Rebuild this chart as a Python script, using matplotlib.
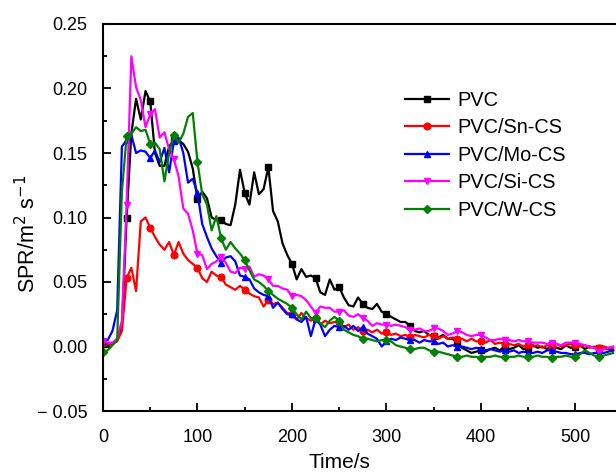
import numpy as np
import matplotlib
matplotlib.use("Agg")
import matplotlib.pyplot as plt
from matplotlib.ticker import MultipleLocator, FuncFormatter

plt.rcParams['font.family'] = ['Liberation Sans', 'DejaVu Sans']

# time axis, one reading every 5 s
time = np.arange(0, 545, 5)

pvc = [0.002, 0.001, 0.002, 0.005, 0.015, 0.100, 0.165, 0.192, 0.176, 0.198,
       0.190, 0.150, 0.140, 0.140, 0.155, 0.160, 0.160, 0.157, 0.151, 0.138,
       0.114, 0.120, 0.115, 0.100, 0.098, 0.098, 0.095, 0.094, 0.110, 0.137,
       0.119, 0.110, 0.135, 0.118, 0.122, 0.139, 0.105, 0.097, 0.080, 0.071,
       0.064, 0.052, 0.060, 0.054, 0.055, 0.053, 0.042, 0.040, 0.052, 0.044,
       0.046, 0.038, 0.032, 0.031, 0.038, 0.033, 0.030, 0.029, 0.033, 0.027,
       0.025, 0.023, 0.021, 0.019, 0.019, 0.016, 0.012, 0.011, 0.012, 0.009,
       0.008, 0.007, 0.009, 0.006, 0.006, 0.003, -0.001, -0.003, -0.005, -0.004,
       -0.003, -0.004, -0.002, -0.001, -0.003, 0.000, -0.002, -0.001, 0.001, -0.002,
       -0.001, 0.001, -0.001, 0.000, -0.002, 0.001, -0.001, -0.002, 0.001, -0.001,
       0.000, 0.001, -0.002, 0.000, -0.001, -0.001, -0.002, -0.002, -0.003]

pvc_sn = [0.003, 0.002, 0.002, 0.004, 0.012, 0.053, 0.061, 0.043, 0.097, 0.100,
          0.092, 0.085, 0.079, 0.075, 0.081, 0.071, 0.081, 0.072, 0.067, 0.064,
          0.061, 0.053, 0.050, 0.058, 0.055, 0.054, 0.048, 0.046, 0.044, 0.047,
          0.044, 0.041, 0.039, 0.038, 0.031, 0.036, 0.033, 0.034, 0.030, 0.026,
          0.025, 0.021, 0.026, 0.022, 0.020, 0.022, 0.017, 0.020, 0.018, 0.019,
          0.019, 0.015, 0.017, 0.013, 0.015, 0.012, 0.013, 0.011, 0.013, 0.010,
          0.011, 0.009, 0.010, 0.008, 0.009, 0.007, 0.009, 0.008, 0.007, 0.009,
          0.008, 0.006, 0.008, 0.006, 0.007, 0.006, 0.006, 0.004, 0.006, 0.004,
          0.004, 0.003, 0.005, 0.002, 0.003, 0.002, 0.002, 0.001, 0.002, 0.000,
          0.001, 0.000, 0.001, -0.001, 0.001, 0.000, 0.002, 0.000, 0.001, 0.002,
          0.001, 0.000, 0.001, -0.001, 0.000, -0.001, 0.000, -0.001, -0.001]

pvc_mo = [0.004, 0.005, 0.012, 0.028, 0.155, 0.160, 0.164, 0.150, 0.152, 0.151,
          0.146, 0.152, 0.143, 0.154, 0.135, 0.159, 0.162, 0.150, 0.127, 0.130,
          0.119, 0.095, 0.085, 0.076, 0.070, 0.065, 0.069, 0.070, 0.066, 0.055,
          0.054, 0.052, 0.045, 0.042, 0.040, 0.039, 0.030, 0.034, 0.029, 0.025,
          0.025, 0.021, 0.019, 0.023, 0.008, 0.021, 0.017, 0.008, 0.013, 0.016,
          0.015, 0.016, 0.013, 0.016, 0.012, 0.015, 0.010, 0.008, 0.006, 0.000,
          0.004, 0.006, 0.005, 0.007, 0.006, 0.005, 0.005, 0.003, 0.005, 0.004,
          0.004, 0.002, 0.003, 0.000, 0.001, 0.000, 0.000, -0.001, -0.002, -0.001,
          -0.002, -0.003, -0.002, -0.003, -0.004, -0.003, -0.004, -0.003, -0.005, -0.004,
          -0.005, -0.005, -0.004, -0.005, -0.003, -0.003, -0.004, -0.005, -0.005, -0.006,
          -0.006, -0.005, -0.005, -0.006, -0.005, -0.005, -0.005, -0.004, -0.003]

pvc_si = [0.004, 0.003, 0.003, 0.006, 0.020, 0.110, 0.225, 0.201, 0.191, 0.170,
          0.180, 0.184, 0.162, 0.166, 0.153, 0.145, 0.132, 0.107, 0.103, 0.090,
          0.072, 0.071, 0.060, 0.064, 0.066, 0.069, 0.065, 0.058, 0.057, 0.061,
          0.060, 0.062, 0.054, 0.056, 0.055, 0.052, 0.047, 0.047, 0.045, 0.044,
          0.039, 0.040, 0.039, 0.036, 0.031, 0.026, 0.031, 0.030, 0.030, 0.027,
          0.027, 0.028, 0.024, 0.023, 0.025, 0.022, 0.020, 0.016, 0.018, 0.017,
          0.017, 0.016, 0.017, 0.016, 0.015, 0.013, 0.013, 0.014, 0.012, 0.012,
          0.014, 0.014, 0.012, 0.009, 0.010, 0.012, 0.011, 0.009, 0.008, 0.009,
          0.009, 0.007, 0.005, 0.005, 0.006, 0.005, 0.005, 0.004, 0.005, 0.004,
          0.004, 0.003, 0.003, 0.003, 0.002, 0.003, 0.002, 0.001, 0.003, 0.003,
          0.003, 0.002, 0.001, 0.000, -0.001, -0.004, -0.002, -0.001, 0.000]

pvc_w = [-0.004, -0.003, 0.001, 0.005, 0.120, 0.163, 0.165, 0.170, 0.167, 0.168,
         0.157, 0.158, 0.153, 0.128, 0.150, 0.164, 0.158, 0.165, 0.178, 0.181,
         0.143, 0.118, 0.110, 0.090, 0.101, 0.084, 0.075, 0.081, 0.076, 0.072,
         0.067, 0.059, 0.052, 0.050, 0.047, 0.043, 0.040, 0.037, 0.035, 0.033,
         0.030, 0.025, 0.021, 0.027, 0.022, 0.022, 0.018, 0.015, 0.020, 0.023,
         0.020, 0.013, 0.011, 0.009, 0.008, 0.006, 0.006, 0.005, 0.004, 0.005,
         0.005, 0.004, 0.001, 0.000, -0.001, -0.002, -0.002, -0.001, -0.001, -0.003,
         -0.004, -0.004, -0.005, -0.006, -0.007, -0.008, -0.008, -0.007, -0.008, -0.008,
         -0.009, -0.008, -0.008, -0.007, -0.008, -0.008, -0.008, -0.008, -0.007, -0.008,
         -0.008, -0.008, -0.007, -0.008, -0.008, -0.009, -0.008, -0.008, -0.007, -0.008,
         -0.008, -0.006, -0.003, -0.005, -0.007, -0.008, -0.007, -0.006, -0.005]

series = [
    ("PVC", pvc, "black", "s"),
    ("PVC/Sn-CS", pvc_sn, "#ff0000", "o"),
    ("PVC/Mo-CS", pvc_mo, "#0000ff", "^"),
    ("PVC/Si-CS", pvc_si, "#ff00ff", "v"),
    ("PVC/W-CS", pvc_w, "#008000", "D"),
]

fig = plt.figure(figsize=(6.16, 4.72), dpi=100)
# axes run past the right edge of the figure, as in the cropped original
ax = fig.add_axes([103 / 616, 61 / 472, 530 / 616, 387 / 472])

for name, vals, col, mk in series:
    ms = 4.0 if mk == "D" else 4.8
    ax.plot(time, vals, color=col, lw=1.6, marker=mk, markersize=ms,
            markevery=5, label=name)

ax.set_xlim(0, 561)
ax.set_ylim(-0.05, 0.25)
ax.xaxis.set_major_locator(MultipleLocator(100))
ax.xaxis.set_minor_locator(MultipleLocator(50))
ax.yaxis.set_major_locator(MultipleLocator(0.05))
ax.yaxis.set_minor_locator(MultipleLocator(0.025))


def yfmt(v, pos):
    s = "%.2f" % abs(v)
    if v < -1e-9:
        return "\u2212 " + s
    return s


ax.yaxis.set_major_formatter(FuncFormatter(yfmt))
ax.tick_params(which="both", direction="in", top=False, right=False,
               labelsize=13, width=1.3)
ax.tick_params(which="major", length=6)
ax.tick_params(which="minor", length=3)
ax.tick_params(axis="x", which="major", pad=13)
ax.tick_params(axis="y", which="major", pad=11)
for sp in ax.spines.values():
    sp.set_linewidth(1.5)

ax.set_xlabel("Time/s", fontsize=15)
ax.xaxis.set_label_coords(0.447, -0.108)
ax.set_ylabel("SPR/m$^2$ s$^{-1}$", fontsize=15.5)
ax.yaxis.set_label_coords(-0.118, 0.457)

ax.legend(loc="upper left", bbox_to_anchor=(387 / 616, 1 - 73 / 472),
          bbox_transform=fig.transFigure, frameon=False, fontsize=14.4,
          handlelength=2.2, labelspacing=0.42, handletextpad=0.4)

fig.savefig("out.png", dpi=100)
